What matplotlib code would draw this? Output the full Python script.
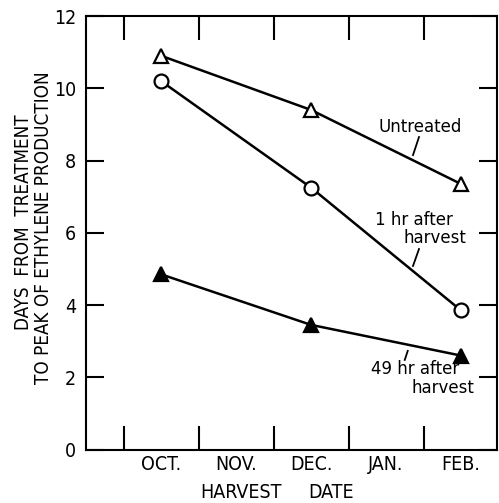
import matplotlib
matplotlib.use("Agg")
import matplotlib.pyplot as plt

months = ["OCT.", "NOV.", "DEC.", "JAN.", "FEB."]
harvest_x = [1, 3, 5]
untreated = [10.9, 9.4, 7.35]
one_hr = [10.2, 7.25, 3.85]
h49 = [4.85, 3.45, 2.6]

plt.rcParams['font.family'] = ['DejaVu Sans']
plt.rcParams['font.stretch'] = 'condensed'

W, H = 499, 503
fig = plt.figure(figsize=(W/100, H/100), dpi=100)
ax = fig.add_axes([86/W, 1-449.5/H, (497-86)/W, (449.5-16)/H])

lw = 1.8
ax.plot(harvest_x, untreated, color='black', lw=lw, marker='^', ms=10,
        mfc='white', mec='black', mew=1.6, zorder=3)
ax.plot(harvest_x, one_hr, color='black', lw=lw, marker='o', ms=10,
        mfc='white', mec='black', mew=1.6, zorder=3)
ax.plot(harvest_x, h49, color='black', lw=lw, marker='^', ms=10,
        mfc='black', mec='black', mew=1.6, zorder=3)

ax.set_xlim(0, 5.48)
ax.set_ylim(0, 12)

ax.set_yticks([0, 2, 4, 6, 8, 10, 12])
ax.set_yticklabels(['0', '2', '4', '6', '8', '10', '12'], fontsize=14)
ax.set_xticks([0.5, 1.5, 2.5, 3.5, 4.5])
ax.set_xticklabels([])
ax.set_xticks([1, 2, 3, 4, 5], minor=True)
ax.set_xticklabels(months, minor=True, fontsize=14)
ax.tick_params(axis='x', which='minor', length=0, pad=4)
ax.tick_params(axis='x', which='major', direction='in', length=17, width=1.5, top=True)
ax.tick_params(axis='y', which='major', direction='in', length=13, width=1.5, right=True, pad=7)
for s in ax.spines.values():
    s.set_linewidth(1.5)

fig.text(241/W, 1-492/H, "HARVEST", fontsize=14, ha='center', va='center')
fig.text(331/W, 1-492/H, "DATE", fontsize=14, ha='center', va='center')
fig.text(24/W, 1-222/H, "DAYS  FROM  TREATMENT", fontsize=13.5, rotation=90,
         ha='center', va='center')
fig.text(44/W, 1-228/H, "TO PEAK OF ETHYLENE PRODUCTION", fontsize=13.5, rotation=90,
         ha='center', va='center')

ann = dict(fontsize=12, ha='center', va='center', fontstretch='normal')
ax.text(4.45, 8.93, "Untreated", **ann)
ax.plot([4.44, 4.36], [8.65, 8.15], color='black', lw=1.3)
ax.text(4.37, 6.34, "1 hr after", **ann)
ax.text(4.65, 5.85, "harvest", **ann)
ax.plot([4.44, 4.36], [5.55, 5.08], color='black', lw=1.3)
ax.text(4.39, 2.22, "49 hr after", **ann)
ax.text(4.76, 1.70, "harvest", **ann)
ax.plot([4.29, 4.25], [2.73, 2.48], color='black', lw=1.3)

fig.savefig("out.png", dpi=100)
